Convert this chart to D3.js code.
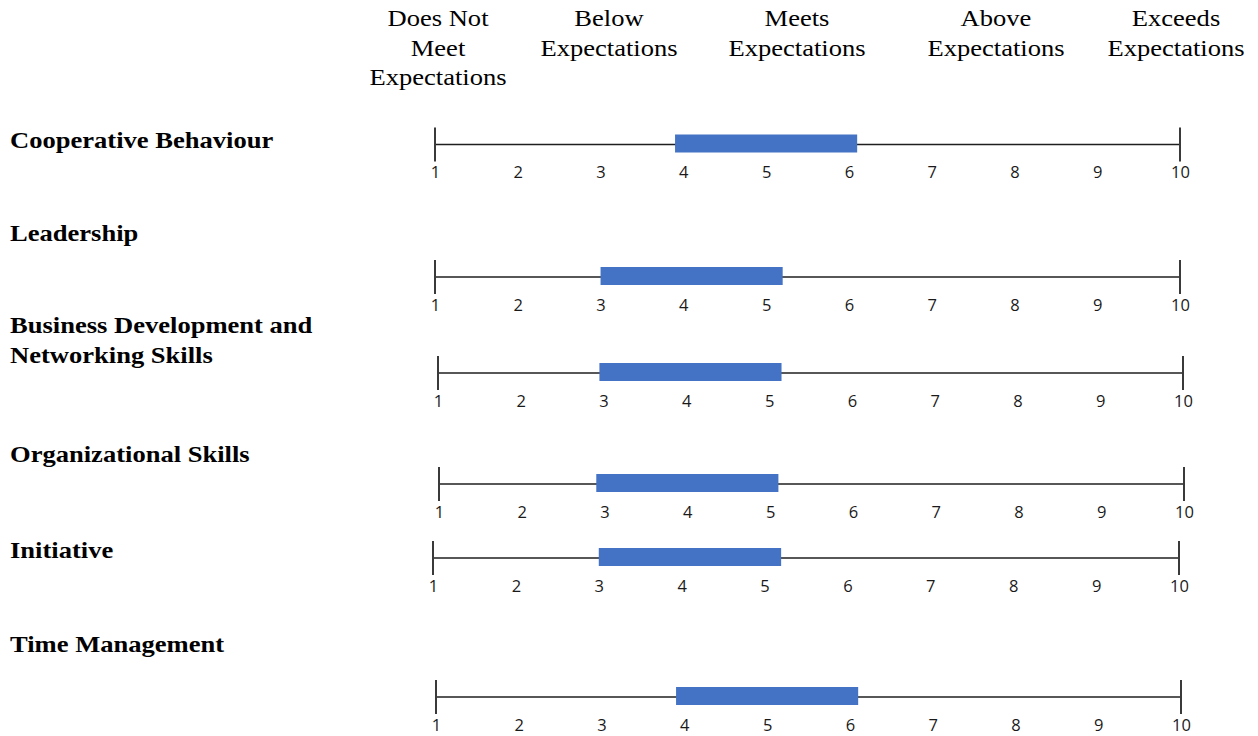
<!DOCTYPE html>
<html>
<head>
<meta charset="utf-8">
<title>Performance Rating Ranges</title>
<script src="https://cdn.jsdelivr.net/npm/d3@7"></script>
<style>
  html, body { margin: 0; padding: 0; background: #ffffff; }
  svg { display: block; }
</style>
</head>
<body>
<svg id="chart" width="1258" height="736"></svg>
<script>
// ---- data ----
const skillLabels = [
  ["Cooperative Behaviour"],
  ["Leadership"],
  ["Business Development and", "Networking Skills"],
  ["Organizational Skills"],
  ["Initiative"],
  ["Time Management"]
];
const rangeLow  = [3.9, 3.0, 2.95, 2.9, 3.0, 3.9];
const rangeHigh = [6.1, 5.2, 5.15, 5.1, 5.2, 6.1];
const scaleTicks = [1, 2, 3, 4, 5, 6, 7, 8, 9, 10];
const ratingLevels = [
  ["Does Not", "Meet", "Expectations"],
  ["Below", "Expectations"],
  ["Meets", "Expectations"],
  ["Above", "Expectations"],
  ["Exceeds", "Expectations"]
];

// ---- layout ----
const textStretch = 1.155;        // serif text is drawn slightly widened
const serifSize = 23;
const levelX = [438, 609, 797, 996, 1176];
const levelBaseline = 26, levelLineGap = 29.5;
const rowAxisY   = [144.5, 277, 373, 484, 558, 697];
const rowX0      = [435, 435, 438, 439, 433, 436];
const rowX1      = [1180, 1180, 1183, 1184, 1179, 1181];
const labelBase  = [148, 241, 333, 462, 558, 652];
const labelLineGap = 29.5;
const capHalf = 17;
const barH = 18, barOffset = -1;

const svg = d3.select("#chart");

// rating level headings across the top
const heads = svg.append("g").attr("class", "levels");
ratingLevels.forEach((lines, i) => {
  lines.forEach((t, j) => {
    heads.append("g")
      .attr("transform", `translate(${levelX[i]},${levelBaseline + j * levelLineGap}) scale(${textStretch},1)`)
      .append("text")
      .attr("text-anchor", "middle")
      .attr("font-family", "'Liberation Serif','Times New Roman',serif")
      .attr("font-size", serifSize)
      .attr("fill", "#000")
      .text(t);
  });
});

// one rating scale per skill
skillLabels.forEach((lines, i) => {
  const g = svg.append("g").attr("class", "skill-row");
  const x = d3.scaleLinear().domain([1, 10]).range([rowX0[i], rowX1[i]]);
  const y0 = rowAxisY[i];

  // skill name
  lines.forEach((t, j) => {
    g.append("g")
      .attr("transform", `translate(10,${labelBase[i] + j * labelLineGap}) scale(${textStretch},1)`)
      .append("text")
      .attr("font-family", "'Liberation Serif','Times New Roman',serif")
      .attr("font-weight", "bold")
      .attr("font-size", serifSize)
      .attr("fill", "#000")
      .text(t);
  });

  // baseline of the scale
  g.append("line")
    .attr("x1", x(1)).attr("x2", x(10))
    .attr("y1", y0).attr("y2", y0)
    .attr("stroke", "#1f1f1f").attr("stroke-width", 1.4);

  // end caps
  [1, 10].forEach(v => {
    g.append("line")
      .attr("x1", x(v)).attr("x2", x(v))
      .attr("y1", y0 - capHalf).attr("y2", y0 + capHalf)
      .attr("stroke", "#3a3a3a").attr("stroke-width", 2);
  });

  // rating range bar
  g.append("rect")
    .attr("x", x(rangeLow[i]))
    .attr("width", x(rangeHigh[i]) - x(rangeLow[i]))
    .attr("y", y0 + barOffset - barH / 2)
    .attr("height", barH)
    .attr("fill", "#4472C4");

  // numeric tick labels
  const axis = d3.axisBottom(x)
    .tickValues(scaleTicks)
    .tickFormat(d3.format("d"))
    .tickSize(0)
    .tickPadding(0);
  const ag = g.append("g")
    .attr("transform", `translate(0,${y0 + 22})`)
    .call(axis);
  ag.select(".domain").remove();
  ag.selectAll("text")
    .attr("dy", "0.71em")
    .attr("font-family", "'Open Sans','Noto Sans',sans-serif")
    .attr("font-size", 16.5)
    .attr("font-weight", 500)
    .attr("fill", "#1a1a1a");
});
</script>
</body>
</html>
